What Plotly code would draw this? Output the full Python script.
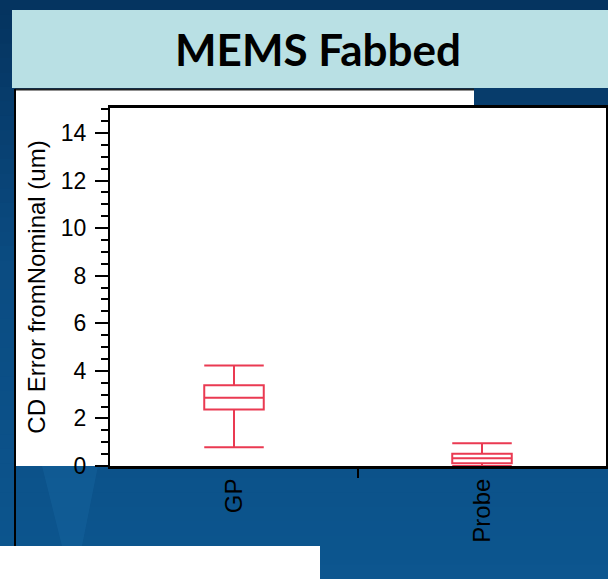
import plotly.graph_objects as go

# Box-plot summary values per feature type (um)
categories = ["GP", "Probe"]
q1 = [2.38, 0.12]
median = [2.87, 0.33]
q3 = [3.39, 0.51]
lower_fence = [0.79, 0.0]
upper_fence = [4.23, 0.96]

y_ticks = [0, 2, 4, 6, 8, 10, 12, 14]

W, H = 608, 579
L, R, T, B = 110, 2, 108, 113
PW, PH = W - L - R, H - T - B


def px(x):
    return (x - L) / PW


def py(y):
    return (H - B - y) / PH


shapes = []

# slide background: vertical blue gradient in bands
top_c = (5, 52, 96)
mid_c = (11, 76, 130)
bot_c = (13, 86, 143)
n = 40
for i in range(n):
    y0 = H * i / n
    y1 = H * (i + 1) / n
    t = i / (n - 1)
    if t < 0.45:
        u = t / 0.45
        c = tuple(int(top_c[k] + (mid_c[k] - top_c[k]) * u) for k in range(3))
    else:
        u = (t - 0.45) / 0.55
        c = tuple(int(mid_c[k] + (bot_c[k] - mid_c[k]) * u) for k in range(3))
    shapes.append(dict(type="rect", xref="paper", yref="paper", layer="below",
                       x0=px(0), x1=px(W), y0=py(y1 + 0.5), y1=py(y0),
                       line=dict(width=0), fillcolor="rgb(%d,%d,%d)" % c))

# faint light beam in the lower-left corner
shapes.append(dict(type="path", xref="paper", yref="paper", layer="below",
                   path="M %f,%f L %f,%f L %f,%f L %f,%f Z" % (
                       px(42), py(466), px(98), py(466), px(82), py(546), px(62), py(546)),
                   line=dict(width=0), fillcolor="rgba(40,130,190,0.18)"))

# title banner
shapes.append(dict(type="rect", xref="paper", yref="paper", layer="below",
                   x0=px(12), x1=px(W), y0=py(88), y1=py(10),
                   line=dict(width=0), fillcolor="#b9e0e4"))

# white chart panel
shapes.append(dict(type="rect", xref="paper", yref="paper", layer="below",
                   x0=px(15), x1=px(474), y0=py(466), y1=py(89),
                   line=dict(width=0), fillcolor="white"))
shapes.append(dict(type="rect", xref="paper", yref="paper", layer="below",
                   x0=0, x1=1, y0=0, y1=1,
                   line=dict(width=0), fillcolor="white"))
shapes.append(dict(type="line", xref="paper", yref="paper", layer="above",
                   x0=px(15), x1=px(474), y0=py(89.5), y1=py(89.5),
                   line=dict(color="#222222", width=2)))
shapes.append(dict(type="line", xref="paper", yref="paper", layer="above",
                   x0=px(15), x1=px(15), y0=py(546), y1=py(89),
                   line=dict(color="black", width=2)))

# white strip at bottom-left
shapes.append(dict(type="rect", xref="paper", yref="paper", layer="below",
                   x0=px(0), x1=px(320), y0=py(H), y1=py(546),
                   line=dict(width=0), fillcolor="white"))

fig = go.Figure()
fig.add_trace(go.Box(
    x=categories,
    q1=q1, median=median, q3=q3,
    lowerfence=lower_fence, upperfence=upper_fence,
    boxpoints=False,
    width=0.24,
    whiskerwidth=1,
    line=dict(color="#ea3a52", width=2),
    fillcolor="rgba(255,255,255,0)",
    showlegend=False,
    hoverinfo="skip",
))

# invisible trace that carries the divider-tick axis
fig.add_trace(go.Scatter(x=[0.5], y=[0], xaxis="x2", mode="markers",
                         marker=dict(opacity=0), showlegend=False, hoverinfo="skip"))

fig.update_layout(
    width=W, height=H,
    margin=dict(l=L, r=R, t=T, b=B, autoexpand=False),
    paper_bgcolor="rgb(11,76,130)",
    plot_bgcolor="white",
    shapes=shapes,
    font=dict(family="Liberation Sans, Arial, sans-serif", color="black", size=23),
    annotations=[dict(
        text="<b>MEMS Fabbed</b>", xref="paper", yref="paper",
        x=px(318), y=py(49), xanchor="center", yanchor="middle",
        showarrow=False,
        font=dict(family="Lato, Open Sans, sans-serif", size=44, color="black"),
    )],
    xaxis=dict(
        type="category", range=[-0.5, 1.5],
        ticks="", tickangle=-90, ticklabelstandoff=0,
        showline=True, linewidth=3, linecolor="black", mirror=True,
        showgrid=False, zeroline=False,
        tickfont=dict(size=24),
    ),
    xaxis2=dict(
        overlaying="x", anchor="y", side="bottom", range=[-0.5, 1.5],
        tickvals=[0.5], ticks="outside", ticklen=11, tickwidth=2,
        tickcolor="black", showticklabels=False,
        showline=False, showgrid=False, zeroline=False,
    ),
    yaxis=dict(
        range=[0, 15.05],
        tickvals=y_ticks, ticks="outside", ticklen=13, tickwidth=2,
        tickcolor="black", ticklabelstandoff=4,
        minor=dict(dtick=0.5, ticks="outside", ticklen=7, tickwidth=2,
                   tickcolor="black", showgrid=False),
        showline=True, linewidth=2, linecolor="black", mirror=True,
        showgrid=False, zeroline=False,
        tickfont=dict(size=23),
        title=dict(text="CD Error fromNominal (um)", font=dict(size=24), standoff=8),
    ),
)

fig.write_html("out.html")
